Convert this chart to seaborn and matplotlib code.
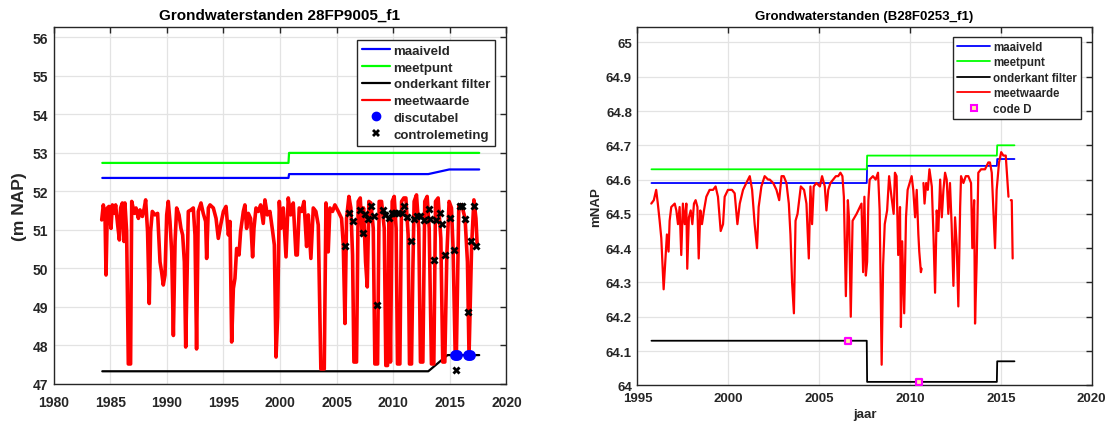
import numpy as np
import pandas as pd
import matplotlib
matplotlib.use("Agg")
import matplotlib.pyplot as plt
from matplotlib.lines import Line2D
from matplotlib import ticker
import seaborn as sns

# ---------------- data: left panel (28FP9005_f1) ----------------
left_title = "Grondwaterstanden 28FP9005_f1"
left_ylabel = "(m NAP)"

left_maaiveld_x = [1984.3, 2000.75, 2000.8, 2013.1, 2014.95, 2017.6]
left_maaiveld_y = [52.35, 52.35, 52.45, 52.45, 52.57, 52.57]
left_meetpunt_x = [1984.3, 2000.75, 2000.8, 2017.6]
left_meetpunt_y = [52.74, 52.74, 53.0, 53.0]
left_filter_x = [1984.3, 2013.1, 2014.8, 2017.6]
left_filter_y = [47.33, 47.33, 47.75, 47.75]

left_meet_x = [
    1984.25, 1984.39, 1984.54, 1984.63, 1984.75, 1984.89, 1985.07, 1985.19, 1985.36, 1985.48,
    1985.66, 1985.81, 1985.92, 1986.07, 1986.22, 1986.30, 1986.45, 1986.60, 1986.80, 1986.90,
    1987.13, 1987.28, 1987.49, 1987.63, 1987.84, 1988.01, 1988.13, 1988.30, 1988.45, 1988.57,
    1988.72, 1988.95, 1989.19, 1989.40, 1989.54, 1989.69, 1989.84, 1989.99, 1990.13, 1990.28,
    1990.43, 1990.58, 1990.73, 1990.87, 1991.08, 1991.25, 1991.40, 1991.55, 1991.67, 1991.90,
    1992.13, 1992.34, 1992.49, 1992.63, 1992.78, 1993.02, 1993.22, 1993.43, 1993.52, 1993.67,
    1993.82, 1994.11, 1994.35, 1994.55, 1994.76, 1995.00, 1995.23, 1995.44, 1995.58, 1995.73,
    1995.88, 1996.02, 1996.17, 1996.38, 1996.52, 1996.76, 1996.90, 1997.05, 1997.20, 1997.40,
    1997.58, 1997.70, 1997.88, 1998.08, 1998.29, 1998.52, 1998.67, 1998.88, 1999.11, 1999.35,
    1999.50, 1999.65, 1999.79, 1999.94, 2000.08, 2000.29, 2000.53, 2000.73, 2000.94, 2001.17,
    2001.41, 2001.53, 2001.70, 2001.91, 2002.12, 2002.35, 2002.50, 2002.73, 2002.94, 2003.17,
    2003.38, 2003.61, 2003.91, 2004.06, 2004.26, 2004.41, 2004.64, 2004.85, 2005.15, 2005.44,
    2005.59, 2005.74, 2005.88, 2006.09, 2006.26, 2006.41, 2006.53, 2006.76, 2006.91, 2007.09,
    2007.26, 2007.38, 2007.56, 2007.71, 2007.85, 2008.03, 2008.24, 2008.38, 2008.62, 2008.76,
    2008.97, 2009.21, 2009.35, 2009.50, 2009.62, 2009.76, 2009.91, 2010.09, 2010.26, 2010.38,
    2010.59, 2010.74, 2010.94, 2011.12, 2011.32, 2011.44, 2011.62, 2011.74, 2011.85, 2012.06,
    2012.26, 2012.41, 2012.62, 2012.79, 2013.00, 2013.18, 2013.38, 2013.59, 2013.74, 2013.97,
    2014.21, 2014.38, 2014.56, 2014.74, 2014.94, 2015.15, 2015.29, 2015.48, 2015.58, 2015.80,
    2016.05, 2016.35, 2016.56, 2016.70, 2016.93, 2017.13, 2017.31, 2017.42,
]
left_meet_y = [
    51.26, 51.65, 51.39, 49.83, 51.57, 51.61, 51.04, 51.65, 51.43, 51.65,
    51.13, 50.74, 51.57, 51.70, 50.70, 51.70, 50.96, 47.52, 47.52, 51.74,
    51.43, 51.57, 51.30, 51.52, 51.35, 51.57, 51.78, 50.96, 49.09, 50.96,
    51.48, 51.39, 51.43, 50.17, 49.91, 49.57, 49.83, 51.39, 51.74, 51.22,
    50.43, 48.26, 50.70, 51.57, 51.39, 51.04, 50.87, 50.17, 47.96, 51.48,
    51.52, 51.57, 50.87, 47.91, 51.48, 51.70, 51.43, 51.22, 50.26, 51.57,
    51.65, 51.57, 51.30, 50.78, 51.13, 51.48, 51.61, 50.87, 51.22, 48.09,
    49.48, 49.74, 50.52, 50.35, 50.96, 51.48, 51.65, 51.04, 51.43, 51.30,
    50.30, 51.04, 51.57, 51.48, 51.65, 51.17, 51.78, 51.39, 51.48, 50.96,
    50.61, 47.70, 48.74, 51.74, 51.04, 51.57, 50.30, 51.83, 51.39, 51.70,
    50.35, 50.35, 51.57, 51.48, 51.74, 50.57, 51.39, 50.26, 51.57, 51.48,
    51.13, 47.39, 47.39, 51.70, 50.43, 51.57, 51.48, 51.65, 51.48, 51.30,
    50.61, 48.57, 51.30, 51.87, 51.57, 50.35, 47.57, 47.57, 51.74, 51.83,
    50.87, 51.57, 50.17, 49.52, 51.74, 51.70, 51.04, 47.52, 47.52, 51.74,
    51.74, 51.04, 47.48, 47.48, 51.22, 47.57, 51.74, 51.87, 51.04, 47.52,
    47.52, 51.74, 51.83, 51.83, 50.87, 47.52, 47.52, 50.00, 51.74, 51.91,
    51.04, 47.57, 47.57, 51.74, 51.87, 51.04, 47.52, 47.52, 51.74, 51.83,
    50.78, 47.57, 47.57, 50.35, 51.74, 51.57, 50.52, 47.74, 47.74, 51.65,
    51.65, 51.30, 50.17, 47.74, 50.60, 51.78, 51.30, 50.60,
]

left_disc_x = [2015.45, 2015.60, 2016.62, 2016.78]
left_disc_y = [47.75, 47.75, 47.75, 47.75]

left_ctrl_x = [2005.71, 2006.12, 2006.43, 2007.03, 2007.32, 2007.50, 2007.76, 2008.08, 2008.33, 2008.55,
               2009.08, 2009.27, 2009.59, 2009.90, 2010.13, 2010.44, 2010.76, 2010.92, 2011.23, 2011.55,
               2011.80, 2012.11, 2012.33, 2012.71, 2013.12, 2013.28, 2013.60, 2013.82, 2014.13, 2014.29,
               2014.54, 2015.02, 2015.39, 2015.55, 2015.90, 2016.05, 2016.34, 2016.59, 2016.85, 2017.16,
               2017.32]
left_ctrl_y = [50.59, 51.43, 51.22, 51.52, 50.91, 51.42, 51.29, 51.61, 51.35, 49.06,
               51.52, 51.40, 51.31, 51.44, 51.44, 51.44, 51.44, 51.61, 51.33, 50.70,
               51.29, 51.37, 51.35, 51.27, 51.55, 51.29, 50.22, 51.27, 51.44, 51.16,
               50.36, 51.31, 50.48, 47.37, 51.61, 51.61, 51.29, 48.88, 50.70, 51.61,
               50.57]

# ---------------- data: right panel (B28F0253_f1) ----------------
right_title = "Grondwaterstanden (B28F0253_f1)"
right_ylabel = "mNAP"
right_xlabel = "jaar"

right_maaiveld_x = [1995.77, 2007.62, 2007.64, 2014.78, 2014.80, 2015.75]
right_maaiveld_y = [64.59, 64.59, 64.64, 64.64, 64.66, 64.66]
right_meetpunt_x = [1995.77, 2007.62, 2007.64, 2014.78, 2014.80, 2015.75]
right_meetpunt_y = [64.63, 64.63, 64.67, 64.67, 64.70, 64.70]
right_filter_x = [1995.77, 2007.62, 2007.64, 2014.78, 2014.80, 2015.75]
right_filter_y = [64.13, 64.13, 64.01, 64.01, 64.07, 64.07]

right_codeD_x = [2006.57, 2010.47]
right_codeD_y = [64.13, 64.01]

right_meet_x = [
    1995.76, 1995.90, 1996.03, 1996.12, 1996.22, 1996.31, 1996.44, 1996.53, 1996.62, 1996.71,
    1996.77, 1996.86, 1997.05, 1997.14, 1997.23, 1997.32, 1997.41, 1997.50, 1997.60, 1997.69,
    1997.74, 1997.83, 1997.93, 1998.02, 1998.11, 1998.20, 1998.30, 1998.37, 1998.46, 1998.55,
    1998.66, 1998.79, 1998.97, 1999.16, 1999.30, 1999.43, 1999.58, 1999.71, 1999.80, 1999.98,
    2000.20, 2000.35, 2000.50, 2000.63, 2000.81, 2000.99, 2001.18, 2001.31, 2001.45, 2001.58,
    2001.67, 2001.82, 2002.00, 2002.19, 2002.28, 2002.47, 2002.65, 2002.80, 2002.93, 2003.05,
    2003.20, 2003.33, 2003.42, 2003.51, 2003.61, 2003.70, 2003.81, 2003.90, 2003.99, 2004.17,
    2004.30, 2004.43, 2004.52, 2004.61, 2004.70, 2004.85, 2005.04, 2005.16, 2005.31, 2005.40,
    2005.50, 2005.62, 2005.77, 2005.92, 2006.05, 2006.17, 2006.28, 2006.36, 2006.47, 2006.58,
    2006.65, 2006.74, 2006.84, 2007.06, 2007.24, 2007.33, 2007.42, 2007.49, 2007.57, 2007.64,
    2007.71, 2007.78, 2007.96, 2008.11, 2008.24, 2008.33, 2008.44, 2008.52, 2008.61, 2008.74,
    2008.85, 2008.98, 2009.10, 2009.17, 2009.26, 2009.35, 2009.45, 2009.50, 2009.57, 2009.68,
    2009.78, 2009.87, 2009.98, 2010.09, 2010.18, 2010.28, 2010.37, 2010.46, 2010.51, 2010.60,
    2010.64, np.nan, 2010.74, 2010.80, 2010.89, 2010.98, 2011.07, 2011.20, 2011.29, 2011.38,
    2011.47, 2011.56, 2011.66, 2011.75, 2011.84, 2011.93, 2012.02, 2012.11, 2012.20, 2012.29,
    2012.39, 2012.48, 2012.57, 2012.66, 2012.76, 2012.81, 2012.94, 2013.07, 2013.21, 2013.36,
    2013.43, 2013.53, 2013.58, 2013.67, 2013.76, 2013.91, 2014.04, 2014.13, 2014.22, 2014.31,
    2014.40, 2014.50, 2014.59, 2014.68, 2014.77, 2014.90, 2015.02, 2015.14, 2015.27, 2015.42,
    np.nan, 2015.55, 2015.60, 2015.65,
]
right_meet_y = [
    64.53, 64.54, 64.57, 64.53, 64.48, 64.43, 64.28, 64.36, 64.44, 64.39,
    64.48, 64.52, 64.53, 64.51, 64.47, 64.52, 64.38, 64.53, 64.47, 64.53,
    64.34, 64.49, 64.51, 64.47, 64.53, 64.54, 64.52, 64.37, 64.51, 64.47,
    64.51, 64.55, 64.57, 64.57, 64.58, 64.55, 64.45, 64.47, 64.55, 64.57,
    64.57, 64.56, 64.47, 64.53, 64.57, 64.59, 64.61, 64.57, 64.47, 64.40,
    64.52, 64.58, 64.61, 64.60, 64.60, 64.59, 64.57, 64.54, 64.61, 64.61,
    64.59, 64.53, 64.44, 64.30, 64.21, 64.48, 64.50, 64.54, 64.58, 64.57,
    64.53, 64.37, 64.58, 64.47, 64.58, 64.59, 64.58, 64.61, 64.58, 64.51,
    64.57, 64.59, 64.60, 64.61, 64.61, 64.62, 64.61, 64.55, 64.26, 64.54,
    64.48, 64.20, 64.48, 64.50, 64.52, 64.53, 64.33, 64.55, 64.32, 64.36,
    64.54, 64.60, 64.61, 64.60, 64.62, 64.51, 64.06, 64.35, 64.47, 64.51,
    64.61, 64.55, 64.50, 64.62, 64.61, 64.38, 64.52, 64.17, 64.42, 64.21,
    64.49, 64.57, 64.59, 64.61, 64.57, 64.49, 64.57, 64.44, 64.39, 64.33,
    64.34, np.nan, 64.59, 64.53, 64.59, 64.57, 64.63, 64.58, 64.44, 64.27,
    64.51, 64.45, 64.60, 64.49, 64.57, 64.62, 64.60, 64.50, 64.59, 64.47,
    64.29, 64.49, 64.41, 64.23, 64.52, 64.61, 64.59, 64.61, 64.61, 64.59,
    64.40, 64.54, 64.18, 64.36, 64.62, 64.63, 64.63, 64.63, 64.64, 64.65,
    64.65, 64.62, 64.51, 64.40, 64.57, 64.65, 64.68, 64.67, 64.67, 64.55,
    np.nan, 64.54, 64.54, 64.37,
]

# ---------------- styling ----------------
sns.set_theme(style="whitegrid")
plt.rcParams["font.family"] = ["Liberation Sans", "DejaVu Sans"]
plt.rcParams["axes.unicode_minus"] = False

C_BLUE = "#0000ff"
C_GREEN = "#00ff00"
C_BLACK = "#000000"
C_RED = "#ff0000"
TXT = "#262626"


def segments(xs, ys):
    """Split a series at NaN gaps into a long-form frame with a unit column."""
    rows = []
    seg = 0
    for x, y in zip(xs, ys):
        if np.isnan(x) or np.isnan(y):
            seg += 1
            continue
        rows.append((x, y, seg))
    return pd.DataFrame(rows, columns=["x", "y", "seg"])


def draw_line(ax, xs, ys, color, lw, z):
    df = segments(xs, ys)
    sns.lineplot(data=df, x="x", y="y", units="seg", estimator=None, sort=False,
                 color=color, lw=lw, ax=ax, legend=False, zorder=z)


def style_axes(ax, fs, xpad):
    ax.set_axisbelow(True)
    ax.grid(True, color="#e3e3e3", lw=0.9)
    for s in ax.spines.values():
        s.set_color(TXT)
        s.set_linewidth(1.0)
        s.set_visible(True)
    ax.tick_params(direction="in", top=True, right=True, length=4, width=1,
                   color=TXT, labelcolor=TXT, labelsize=fs, pad=4)
    ax.tick_params(axis="x", pad=xpad)
    for lab in ax.get_xticklabels() + ax.get_yticklabels():
        lab.set_fontweight("bold")


fig = plt.figure(figsize=(11.10, 4.27), dpi=100)
axL = fig.add_axes([0.0483, 0.0984, 0.4079, 0.8361])
axR = fig.add_axes([0.5743, 0.0953, 0.4092, 0.8391])

# ---- left panel ----
draw_line(axL, left_maaiveld_x, left_maaiveld_y, C_BLUE, 1.6, 3)
draw_line(axL, left_meetpunt_x, left_meetpunt_y, C_GREEN, 1.6, 3)
draw_line(axL, left_filter_x, left_filter_y, C_BLACK, 1.6, 3)
draw_line(axL, left_meet_x, left_meet_y, C_RED, 2.6, 4)
sns.scatterplot(x=left_disc_x, y=left_disc_y, color=C_BLUE, s=60, marker="o",
                linewidth=0, ax=axL, legend=False, zorder=5)
sns.scatterplot(x=left_ctrl_x, y=left_ctrl_y, color=C_BLACK, s=34, marker="X",
                linewidth=0, ax=axL, legend=False, zorder=6)

axL.set_xlim(1980, 2020)
axL.set_ylim(47, 56.27)
axL.xaxis.set_major_locator(ticker.MultipleLocator(5))
axL.yaxis.set_major_locator(ticker.MultipleLocator(1))
axL.set_xlabel("")
axL.set_ylabel(left_ylabel, fontsize=12.5, fontweight="bold", color=TXT, labelpad=4)
axL.set_title(left_title, fontsize=11, fontweight="bold", color="black", pad=6)
style_axes(axL, 10, 8)

hL = [
    Line2D([], [], color=C_BLUE, lw=1.6),
    Line2D([], [], color=C_GREEN, lw=1.6),
    Line2D([], [], color=C_BLACK, lw=1.6),
    Line2D([], [], color=C_RED, lw=1.6),
    Line2D([], [], color=C_BLUE, lw=0, marker="o", ms=6),
    Line2D([], [], color=C_BLACK, lw=0, marker="X", ms=6, mew=0),
]
legL = axL.legend(hL, ["maaiveld", "meetpunt", "onderkant filter", "meetwaarde",
                       "discutabel", "controlemeting"],
                  loc="upper right", bbox_to_anchor=(0.974, 0.964), borderaxespad=0,
                  prop={"size": 9.5, "weight": "bold"}, frameon=True, fancybox=False,
                  edgecolor=TXT, framealpha=1, handlelength=2.1, handletextpad=0.3,
                  labelspacing=0.35, borderpad=0.35)
legL.get_frame().set_linewidth(1.0)
legL.set_zorder(10)

# ---- right panel ----
draw_line(axR, right_maaiveld_x, right_maaiveld_y, C_BLUE, 1.3, 3)
draw_line(axR, right_meetpunt_x, right_meetpunt_y, C_GREEN, 1.3, 3)
draw_line(axR, right_filter_x, right_filter_y, C_BLACK, 1.3, 3)
draw_line(axR, right_meet_x, right_meet_y, C_RED, 1.6, 4)
sns.scatterplot(x=right_codeD_x, y=right_codeD_y, marker="s", s=22,
                facecolor="#fff0a0", edgecolor="#ff00ff", linewidth=1.6,
                ax=axR, legend=False, zorder=6)

axR.set_xlim(1995, 2020)
axR.set_ylim(64, 65.045)
axR.xaxis.set_major_locator(ticker.MultipleLocator(5))
axR.yaxis.set_major_locator(ticker.MultipleLocator(0.1))
axR.yaxis.set_major_formatter(ticker.FuncFormatter(lambda v, p: f"{v:g}"))
axR.set_xlabel(right_xlabel, fontsize=9.5, fontweight="bold", color=TXT, labelpad=3)
axR.set_ylabel(right_ylabel, fontsize=9.5, fontweight="bold", color=TXT, labelpad=3)
axR.set_title(right_title, fontsize=9.5, fontweight="bold", color="black", pad=6)
style_axes(axR, 9.5, 5)

hR = [
    Line2D([], [], color=C_BLUE, lw=1.3),
    Line2D([], [], color=C_GREEN, lw=1.3),
    Line2D([], [], color=C_BLACK, lw=1.3),
    Line2D([], [], color=C_RED, lw=1.3),
    Line2D([], [], lw=0, marker="s", ms=4.5, mfc="#fff0a0", mec="#ff00ff", mew=1.5),
]
legR = axR.legend(hR, ["maaiveld", "meetpunt", "onderkant filter", "meetwaarde", "code D"],
                  loc="upper right", bbox_to_anchor=(0.9765, 0.973), borderaxespad=0,
                  prop={"size": 8.3, "weight": "bold"}, frameon=True, fancybox=False,
                  edgecolor=TXT, framealpha=1, handlelength=2.8, handletextpad=0.3,
                  labelspacing=0.3, borderpad=0.35)
legR.get_frame().set_linewidth(1.0)
legR.set_zorder(10)

fig.savefig("out.png", dpi=100)
